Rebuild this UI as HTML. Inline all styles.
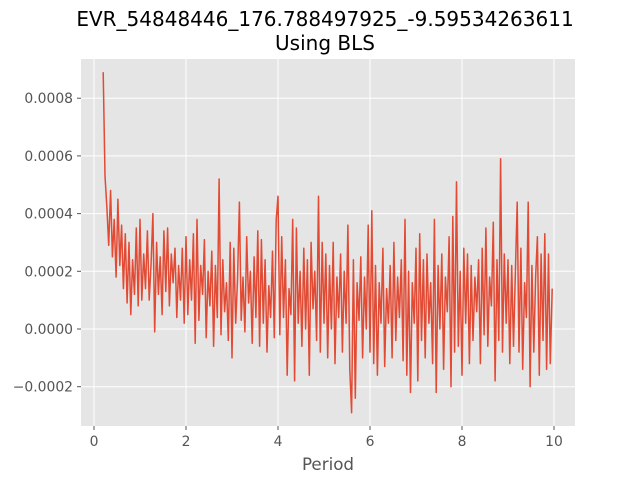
<!DOCTYPE html>
<html><head><meta charset="utf-8"><style>
body{margin:0;background:#fff;width:640px;height:480px;overflow:hidden;font-family:"DejaVu Sans","Liberation Sans",sans-serif}
</style></head><body>
<svg id="chart" width="640" height="480" xmlns="http://www.w3.org/2000/svg" font-family="DejaVu Sans, Liberation Sans, sans-serif">
<text x="325" y="26" text-anchor="middle" font-size="20" fill="#000">EVR_54848446_176.788497925_-9.59534263611</text>
<text x="325" y="50" text-anchor="middle" font-size="20" fill="#000">Using BLS</text>
<rect x="81" y="59" width="494" height="367" fill="#e5e5e5"/>
<g id="grid"></g>
<g id="ticks"></g>
<path id="line" fill="none" stroke="#E24A33" stroke-width="1.5" stroke-linejoin="round"/>
<text x="328" y="470" text-anchor="middle" font-size="16.7" fill="#555">Period</text>
</svg>
<script>
const periodStart = 0.2, periodStep = 0.04;
const power = [8.9,5.3,4.2,2.9,4.8,2.5,3.8,1.8,4.5,2.2,3.6,1.4,3.3,0.9,3.0,0.5,2.4,1.2,3.5,0.8,
3.8,1.0,2.6,1.4,3.4,1.0,2.2,4.0,-0.1,3.0,1.2,2.5,0.5,3.4,1.3,3.5,0.8,2.6,1.6,2.8,0.4,2.2,1.0,2.8,0.2,
3.2,0.5,2.4,1.0,3.3,-0.5,3.8,0.3,2.2,1.2,3.1,-0.3,2.0,0.8,2.7,-0.6,2.2,0.4,5.2,-0.2,2.4,0.6,1.6,-0.4,3.0,
-1.0,2.8,0.2,1.7,4.4,0.3,1.8,-0.1,3.2,0.9,2.0,-0.5,2.5,0.4,3.4,-0.6,3.1,0.2,2.4,-0.8,1.5,0.4,2.7,-0.3,3.8,
4.6,-0.2,3.2,0.4,2.4,-1.6,1.4,0.5,3.8,-1.8,3.5,0.2,2.0,-0.6,2.8,0.0,2.4,-1.6,3.0,0.7,2.0,-0.4,4.6,-0.8,3.0,
0.2,2.6,-1.0,2.2,0.0,3.0,-1.2,1.8,0.4,2.6,-0.8,2.0,0.2,3.6,-1.4,-2.9,2.4,-2.4,1.6,0.3,2.5,-1.0,1.8,0.0,3.6,
-0.8,4.1,-1.2,2.2,-1.6,1.6,0.2,2.8,-1.3,1.4,0.2,2.2,-1.0,3.0,-0.4,1.8,0.4,2.4,-1.1,3.8,-1.6,2.0,-2.2,1.6,0.2,
2.8,-1.8,3.3,-0.4,2.4,-1.0,2.6,0.2,1.6,-1.2,3.8,-2.2,2.2,0.0,2.6,-1.4,1.8,0.6,3.2,-2.0,3.9,-0.8,5.1,-0.6,2.0,
-1.6,2.8,0.2,2.6,-1.2,2.2,-0.4,1.8,0.6,2.4,-1.2,2.8,-0.2,3.5,-0.6,1.8,0.8,3.7,-1.8,2.4,-0.4,5.9,-0.8,2.6,0.2,
2.4,-1.2,2.2,-0.6,2.0,4.4,-0.8,2.8,-1.4,1.6,0.4,4.4,-2.0,2.2,-0.8,1.8,3.2,-1.6,2.6,-0.4,3.3,-1.4,2.6,-1.2,1.4];
const xTicks = [0,2,4,6,8,10];
const yTicks = [-2,0,2,4,6,8];
const yTickLabels = ["−0.0002","0.0000","0.0002","0.0004","0.0006","0.0008"];

const xs = v => 94 + v*46;
const ys = v => 329 - v*28.85;
const NS="http://www.w3.org/2000/svg";
const grid=document.getElementById('grid'), ticks=document.getElementById('ticks');
function mk(tag,attrs,parent){const e=document.createElementNS(NS,tag);for(const k in attrs)e.setAttribute(k,attrs[k]);parent.appendChild(e);return e;}
xTicks.forEach(t=>{
  const g=mk('line',{x1:xs(t),x2:xs(t),y1:59,y2:426,stroke:'#fff','stroke-width':1},grid);
  
  
  const tk=mk('line',{x1:xs(t),x2:xs(t),y1:426,y2:430,stroke:'#555'},ticks);
  
  
  const lb=mk('text',{x:xs(t),y:446,'text-anchor':'middle','font-size':13.9,fill:'#555'},ticks);
  lb.textContent=String(t);
  
  
});
yTicks.forEach((t,i)=>{
  const g=mk('line',{x1:81,x2:575,y1:ys(t),y2:ys(t),stroke:'#fff','stroke-width':1},grid);
  
  
  const tk=mk('line',{x1:77,x2:81,y1:ys(t),y2:ys(t),stroke:'#555'},ticks);
  
  
  const lb=mk('text',{x:73,y:ys(t)+5,'text-anchor':'end','font-size':13.9,fill:'#555'},ticks);
  lb.textContent=yTickLabels[i];
  
  
});
let d='';
power.forEach((v,i)=>{const p=periodStart+i*periodStep;d+=(i?'L':'M')+xs(p).toFixed(1)+' '+ys(v).toFixed(1);});
document.getElementById('line').setAttribute('d',d);
</script>
</body></html>
